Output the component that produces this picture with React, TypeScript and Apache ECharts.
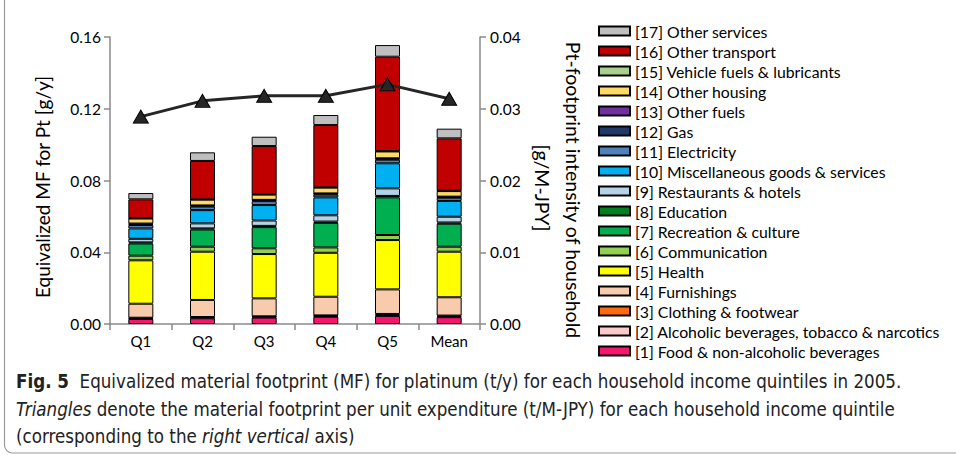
import React, { useEffect, useRef } from "react";
import * as echarts from "echarts";

const categories = ["Q1", "Q2", "Q3", "Q4", "Q5", "Mean"];

const food = [0.0028, 0.0032, 0.0036, 0.004, 0.0045, 0.0038];
const alcohol = [0.0004, 0.0004, 0.0004, 0.0005, 0.0006, 0.0005];
const clothing = [0.0003, 0.0003, 0.0003, 0.0003, 0.0005, 0.0004];
const furnishings = [0.0078, 0.0095, 0.01, 0.0104, 0.0137, 0.0102];
const health = [0.0242, 0.0269, 0.0247, 0.0245, 0.0275, 0.0254];
const communication = [0.0026, 0.0028, 0.0032, 0.003, 0.0028, 0.0028];
const recreation = [0.0068, 0.0096, 0.0118, 0.0137, 0.021, 0.0128];
const education = [0.0006, 0.0006, 0.0007, 0.0007, 0.0008, 0.0007];
const restaurants = [0.002, 0.0028, 0.003, 0.0035, 0.0042, 0.0032];
const misc = [0.0058, 0.0074, 0.0086, 0.01, 0.014, 0.0088];
const electricity = [0.0019, 0.002, 0.0022, 0.0016, 0.002, 0.0018];
const gas = [0.0005, 0.0004, 0.0005, 0.0004, 0.0005, 0.0004];
const otherFuels = [0.0003, 0.0002, 0.0002, 0.0002, 0.0003, 0.0002];
const otherHousing = [0.0028, 0.0032, 0.0029, 0.0032, 0.0038, 0.0031];
const vehicleFuels = [0.0002, 0.0002, 0.0002, 0.0002, 0.0002, 0.0002];
const otherTransport = [0.0105, 0.0214, 0.0269, 0.0347, 0.0526, 0.0292];
const otherServices = [0.0035, 0.0048, 0.0052, 0.0056, 0.0065, 0.0054];

const intensity = [0.0289, 0.0311, 0.0318, 0.0318, 0.0334, 0.0314];

const leftTicks = { min: 0, max: 0.16, interval: 0.04 };
const rightTicks = { min: 0, max: 0.04, interval: 0.01 };

const seriesDefs = [
  { name: "[1] Food & non-alcoholic beverages", data: food, color: "#F5166E" },
  { name: "[2] Alcoholic beverages, tobacco & narcotics", data: alcohol, color: "#FBC8CC" },
  { name: "[3] Clothing & footwear", data: clothing, color: "#FF6A0D" },
  { name: "[4] Furnishings", data: furnishings, color: "#F8CBAD" },
  { name: "[5] Health", data: health, color: "#FFFF00" },
  { name: "[6] Communication", data: communication, color: "#92D050" },
  { name: "[7] Recreation & culture", data: recreation, color: "#00B050" },
  { name: "[8] Education", data: education, color: "#00801E" },
  { name: "[9] Restaurants & hotels", data: restaurants, color: "#B4D3E6" },
  { name: "[10] Miscellaneous goods & services", data: misc, color: "#00B0F0" },
  { name: "[11] Electricity", data: electricity, color: "#4F81BD" },
  { name: "[12] Gas", data: gas, color: "#1F3A68" },
  { name: "[13] Other fuels", data: otherFuels, color: "#7030A0" },
  { name: "[14] Other housing", data: otherHousing, color: "#FFD966" },
  { name: "[15] Vehicle fuels & lubricants", data: vehicleFuels, color: "#A9D18E" },
  { name: "[16] Other transport", data: otherTransport, color: "#C00000" },
  { name: "[17] Other services", data: otherServices, color: "#BFBFBF" },
];

const lineName = "Pt-footprint intensity";

const chartFont = "Lato, 'Open Sans', sans-serif";
const capFont = "'Liberation Sans Narrow', 'DejaVu Sans Condensed', 'Liberation Sans', sans-serif";

export default function App() {
  const ref = useRef<HTMLDivElement>(null);

  useEffect(() => {
    document.body.style.margin = "0";
    if (!ref.current) return;
    const chart = echarts.init(ref.current, null, { renderer: "svg" });

    const barSeries = seriesDefs.map((s) => ({
      name: s.name,
      type: "bar",
      stack: "total",
      barWidth: 25,
      data: s.data,
      itemStyle: { color: s.color, borderColor: "#000", borderWidth: 1 },
      emphasis: { disabled: true },
      z: 2,
    }));

    const option = {
      animation: false,
      textStyle: { fontFamily: chartFont },
      grid: { left: 110, right: 476, top: 37, bottom: 131 },
      legend: {
        orient: "vertical",
        left: 593,
        top: 18,
        icon: "rect",
        itemWidth: 31,
        itemHeight: 9,
        itemGap: 4,
        selectedMode: false,
        data: seriesDefs.map((s) => s.name).reverse(),
        textStyle: { fontFamily: chartFont, fontSize: 15.8, lineHeight: 16, color: "#000" },
      },
      xAxis: {
        type: "category",
        data: categories,
        boundaryGap: true,
        axisLine: { lineStyle: { color: "#8a8a8a", width: 1.5 } },
        axisTick: { show: true, length: 6, alignWithLabel: false, lineStyle: { color: "#8a8a8a", width: 1.5 } },
        axisLabel: { color: "#000", fontSize: 15, margin: 9, fontFamily: chartFont },
      },
      yAxis: [
        {
          type: "value",
          min: leftTicks.min,
          max: leftTicks.max,
          interval: leftTicks.interval,
          axisLine: { show: true, lineStyle: { color: "#8a8a8a", width: 1.5 } },
          axisTick: { show: true, length: 6, lineStyle: { color: "#8a8a8a", width: 1.5 } },
          splitLine: { show: false },
          axisLabel: {
            color: "#000",
            fontSize: 15.5,
            margin: 9,
            fontFamily: chartFont,
            formatter: (v: number) => v.toFixed(2),
          },
        },
        {
          type: "value",
          position: "right",
          min: rightTicks.min,
          max: rightTicks.max,
          interval: rightTicks.interval,
          axisLine: { show: true, lineStyle: { color: "#8a8a8a", width: 1.5 } },
          axisTick: { show: true, length: 6, lineStyle: { color: "#8a8a8a", width: 1.5 } },
          splitLine: { show: false },
          axisLabel: {
            color: "#000",
            fontSize: 15.5,
            margin: 10,
            fontFamily: chartFont,
            formatter: (v: number) => v.toFixed(2),
          },
        },
      ],
      series: [
        ...barSeries,
        {
          name: lineName,
          type: "line",
          yAxisIndex: 1,
          data: intensity,
          symbol: "triangle",
          symbolSize: [15, 13],
          lineStyle: { color: "#262626", width: 3 },
          itemStyle: { color: "#262626", borderColor: "#000", borderWidth: 1 },
          emphasis: { disabled: true },
          z: 10,
        },
      ],
      graphic: [
        {
          type: "rect",
          shape: { x: 4.5, y: -20, width: 1000, height: 473, r: 8 },
          style: { fill: "none", stroke: "#9a9a9a", lineWidth: 1.2 },
          silent: true,
        },
        {
          type: "text",
          x: 42,
          y: 187,
          rotation: Math.PI / 2,
          style: {
            text: "Equivalized MF for Pt [g/y]",
            fontFamily: chartFont,
            fontSize: 19,
            fill: "#000",
            align: "center",
            verticalAlign: "middle",
          },
        },
        {
          type: "text",
          x: 573,
          y: 190,
          rotation: -Math.PI / 2,
          style: {
            text: "Pt-footprint intensity of household",
            fontFamily: chartFont,
            fontSize: 19.5,
            fill: "#000",
            align: "center",
            verticalAlign: "middle",
          },
        },
        {
          type: "text",
          x: 542,
          y: 188,
          rotation: -Math.PI / 2,
          style: {
            text: "[g/M-JPY]",
            fontFamily: chartFont,
            fontSize: 19.5,
            fill: "#000",
            align: "center",
            verticalAlign: "middle",
          },
        },
        {
          type: "text",
          x: 16,
          y: 381,
          style: {
            text: "{b|Fig. 5}  Equivalized material footprint (MF) for platinum (t/y) for each household income quintiles in 2005.",
            fontFamily: capFont,
            fontSize: 18.6,
            fill: "#222",
            verticalAlign: "middle",
            rich: {
              b: { fontFamily: capFont, fontSize: 18.6, fontWeight: "bold", fill: "#222" },
            },
          },
        },
        {
          type: "text",
          x: 16,
          y: 409,
          style: {
            text: "{i|Triangles} denote the material footprint per unit expenditure (t/M-JPY) for each household income quintile",
            fontFamily: capFont,
            fontSize: 18.6,
            fill: "#222",
            verticalAlign: "middle",
            rich: {
              i: { fontFamily: capFont, fontSize: 18.6, fontStyle: "italic", fill: "#222" },
            },
          },
        },
        {
          type: "text",
          x: 16,
          y: 436,
          style: {
            text: "(corresponding to the {i|right vertical} axis)",
            fontFamily: capFont,
            fontSize: 18.6,
            fill: "#222",
            verticalAlign: "middle",
            rich: {
              i: { fontFamily: capFont, fontSize: 18.6, fontStyle: "italic", fill: "#222" },
            },
          },
        },
      ],
    };

    chart.setOption(option as any);
    return () => chart.dispose();
  }, []);

  return <div ref={ref} style={{ width: 956, height: 455 }} />;
}
